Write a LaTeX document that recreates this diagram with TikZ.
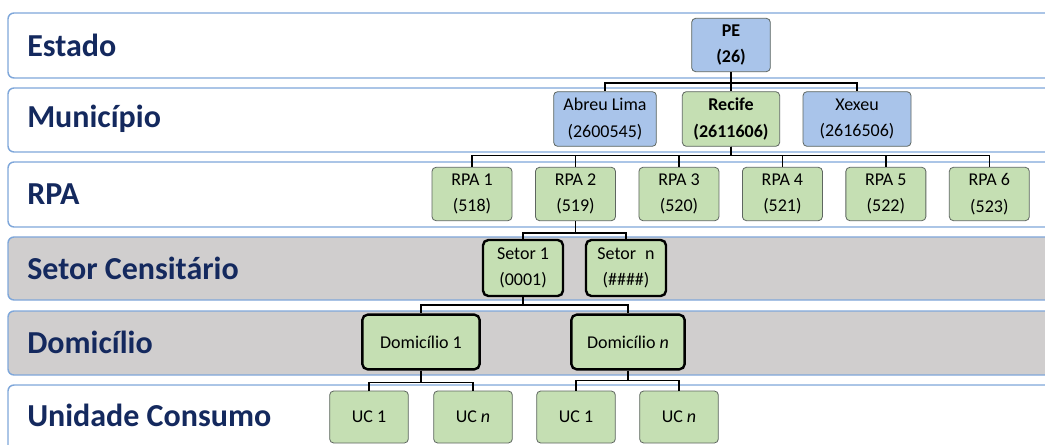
\documentclass[tikz,border=0pt]{standalone}
\usepackage{fontspec}
\setmainfont{Carlito}
\usepackage{xcolor}
\usetikzlibrary{positioning}

\definecolor{bandline}{HTML}{7FA7DA}
\definecolor{bandgray}{HTML}{D0CECE}
\definecolor{labelnavy}{HTML}{14295E}
\definecolor{leafgreen}{HTML}{C5DFB3}
\definecolor{topblue}{HTML}{A9C4EA}
\definecolor{boxline}{HTML}{5E6660}

\begin{document}
\begin{tikzpicture}[
    x=0.75pt, y=-0.75pt,
    band/.style={draw=bandline, line width=1.1pt, rounded corners=4.5pt},
    level/.style={font=\fontsize{24}{27}\selectfont\bfseries, text=labelnavy, anchor=west, inner sep=0pt},
    block/.style={rectangle, draw=boxline, line width=0.6pt, rounded corners=3pt, align=center, text centered, inner sep=0pt, font=\fontsize{13.5}{20}\selectfont},
    state/.style={block, fill=topblue, minimum width=59pt, minimum height=40pt},
    city/.style={block, fill=topblue, minimum height=41pt},
    rpa/.style={block, fill=leafgreen, minimum width=60pt, minimum height=40pt},
    sector/.style={block, fill=leafgreen, draw=black, line width=1.8pt, rounded corners=4pt, minimum width=60pt, minimum height=42pt},
    home/.style={sector, minimum height=41pt},
    uc/.style={block, fill=leafgreen, minimum width=59pt, minimum height=39pt},
    tree/.style={draw=black, line width=1.1pt}
]
\useasboundingbox (0,0) rectangle (1045,445);
\clip (0,0) rectangle (1045,445);

% faixas dos niveis
\draw[band, fill=white] (8,13) rectangle (1065,78);
\draw[band, fill=white] (8,88) rectangle (1065,152);
\draw[band, fill=white] (8,162) rectangle (1065,227);
\draw[band, fill=bandgray] (8,237) rectangle (1065,300);
\draw[band, fill=bandgray] (8,311) rectangle (1065,375);
\draw[band, fill=white] (8,385) rectangle (1065,470);

\node[level] (lestado) at (27,45) {Estado};
\node[level] (lmun) at (27,119) {Município};
\node[level] (lrpa) at (27,194) {RPA};
\node[level] (lsetor) at (27,268) {Setor Censitário};
\node[level] (ldom) at (27,342) {Domicílio};
\node[level] (luc) at (27,415) {Unidade Consumo};

% arvore
\node[state] (pe) at (731,45) {\textbf{PE}\\\textbf{(26)}};
\node[city, minimum width=77pt] (abreu) at (605,119) {Abreu Lima\\(2600545)};
\node[city, fill=leafgreen, minimum width=73pt] (recife) at (731,119) {\textbf{Recife}\\\textbf{(2611606)}};
\node[city, minimum width=81pt] (xexeu) at (857,119) {Xexeu\\(2616506)};

\node[rpa] (rpa1) at (472,194) {RPA 1\\(518)};
\node[rpa, right=17pt of rpa1] (rpa2) {RPA 2\\(519)};
\node[rpa, right=17pt of rpa2] (rpa3) {RPA 3\\(520)};
\node[rpa, right=17pt of rpa3] (rpa4) {RPA 4\\(521)};
\node[rpa, right=17pt of rpa4] (rpa5) {RPA 5\\(522)};
\node[rpa, right=17pt of rpa5] (rpa6) {RPA 6\\(523)};

\node[sector] (setor1) at (523,268) {Setor 1\\(0001)};
\node[sector] (setorn) at (626,268) {Setor\enspace n\\(\#\#\#\#)};

\node[home, minimum width=88pt] (dom1) at (421,342) {Domicílio 1};
\node[home, minimum width=85pt] (domn) at (628,342) {Domicílio \textit{n}};

\node[uc] (uc11) at (369,417) {UC 1};
\node[uc] (uc1n) at (473,417) {UC \textit{n}};
\node[uc] (ucn1) at (576,417) {UC 1};
\node[uc] (ucnn) at (679,417) {UC \textit{n}};

\draw[tree] (pe.south) -- (recife.north);
\draw[tree] (pe.south) -- ++(0,11) -| (abreu.north);
\draw[tree] (pe.south) -- ++(0,11) -| (xexeu.north);

\draw[tree] (recife.south) -- ++(0,9) -| (rpa1.north);
\draw[tree] (recife.south) -- ++(0,9) -| (rpa2.north);
\draw[tree] (recife.south) -- ++(0,9) -| (rpa3.north);
\draw[tree] (recife.south) -- ++(0,9) -| (rpa4.north);
\draw[tree] (recife.south) -- ++(0,9) -| (rpa5.north);
\draw[tree] (recife.south) -- ++(0,9) -| (rpa6.north);

\draw[tree] (rpa2.south) -- ++(0,12) -| (setor1.north);
\draw[tree] (rpa2.south) -- ++(0,12) -| (setorn.north);

\draw[tree] (setor1.south) -- ++(0,8) -| (dom1.north);
\draw[tree] (setor1.south) -- ++(0,8) -| (domn.north);

\draw[tree] (dom1.south) -- ++(0,12) -| (uc11.north);
\draw[tree] (dom1.south) -- ++(0,12) -| (uc1n.north);
\draw[tree] (domn.south) -- ++(0,10) -| (ucn1.north);
\draw[tree] (domn.south) -- ++(0,10) -| (ucnn.north);

\end{tikzpicture}
\end{document}
